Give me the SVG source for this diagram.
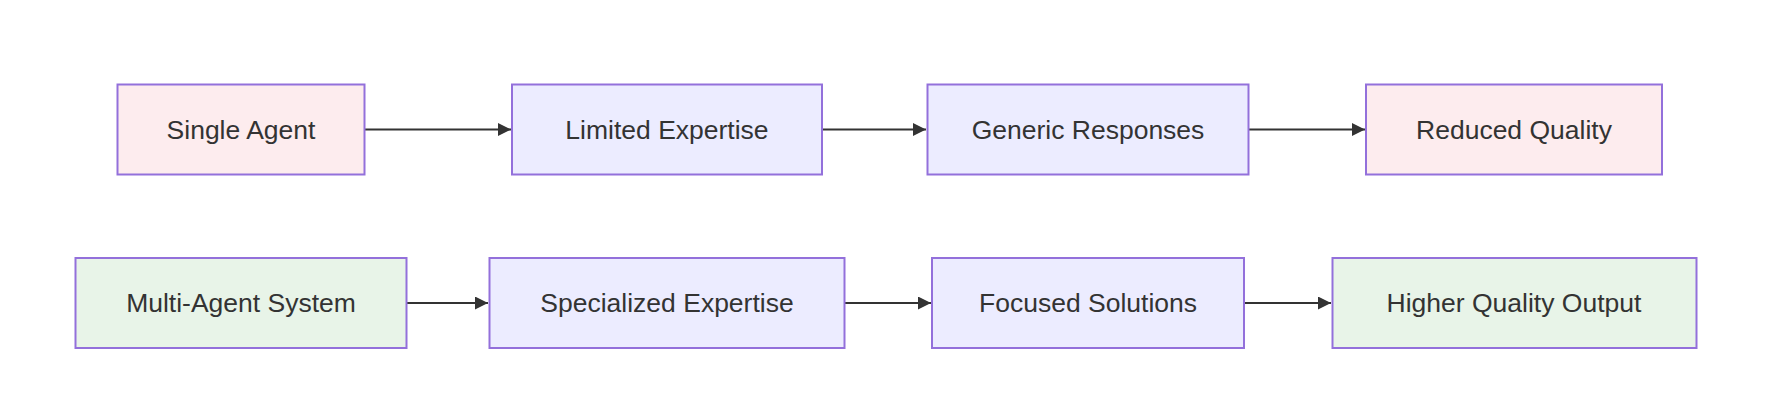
<svg xmlns="http://www.w3.org/2000/svg" width="1770" height="412" viewBox="0 0 1770 412">
<defs>
<marker id="arr" viewBox="0 0 10 10" refX="10" refY="5" markerUnits="userSpaceOnUse" markerWidth="14" markerHeight="13" orient="auto">
<path d="M0,0 L10,5 L0,10 z" fill="#333"/>
</marker>
<style>
.n rect{stroke:#9370DB;stroke-width:2}
.red rect{fill:#FDECEE}
.blue rect{fill:#ECECFF}
.green rect{fill:#E8F4E8}
.n text{font-family:"Liberation Sans",Arial,sans-serif;font-size:26.5px;fill:#333;text-anchor:middle;dominant-baseline:central}
.e path{stroke:#333;stroke-width:2;fill:none;marker-end:url(#arr)}
</style>
</defs>
<rect width="1770" height="412" fill="#fff"/>
<g class="e" id="connectors">
<path d="M365,129.5 L511,129.5"/>
<path d="M822,129.5 L926,129.5"/>
<path d="M1249,129.5 L1365,129.5"/>
<path d="M407,303 L488,303"/>
<path d="M845,303 L931,303"/>
<path d="M1245,303 L1331,303"/>
</g>
<g id="single" class="n red"><rect x="117.5" y="84.5" width="247" height="90"/><text x="241" y="129.5">Single Agent</text></g>
<g id="limited" class="n blue"><rect x="512" y="84.5" width="310" height="90"/><text x="667" y="129.5">Limited Expertise</text></g>
<g id="generic" class="n blue"><rect x="927.5" y="84.5" width="321" height="90"/><text x="1088" y="129.5">Generic Responses</text></g>
<g id="reduced" class="n red"><rect x="1366" y="84.5" width="296" height="90"/><text x="1514" y="129.5">Reduced Quality</text></g>
<g id="multi" class="n green"><rect x="75.5" y="258" width="331" height="90"/><text x="241" y="303">Multi-Agent System</text></g>
<g id="specialized" class="n blue"><rect x="489.5" y="258" width="355" height="90"/><text x="667" y="303">Specialized Expertise</text></g>
<g id="focused" class="n blue"><rect x="932" y="258" width="312" height="90"/><text x="1088" y="303">Focused Solutions</text></g>
<g id="higher" class="n green"><rect x="1332.5" y="258" width="364" height="90"/><text x="1514" y="303">Higher Quality Output</text></g>
</svg>
